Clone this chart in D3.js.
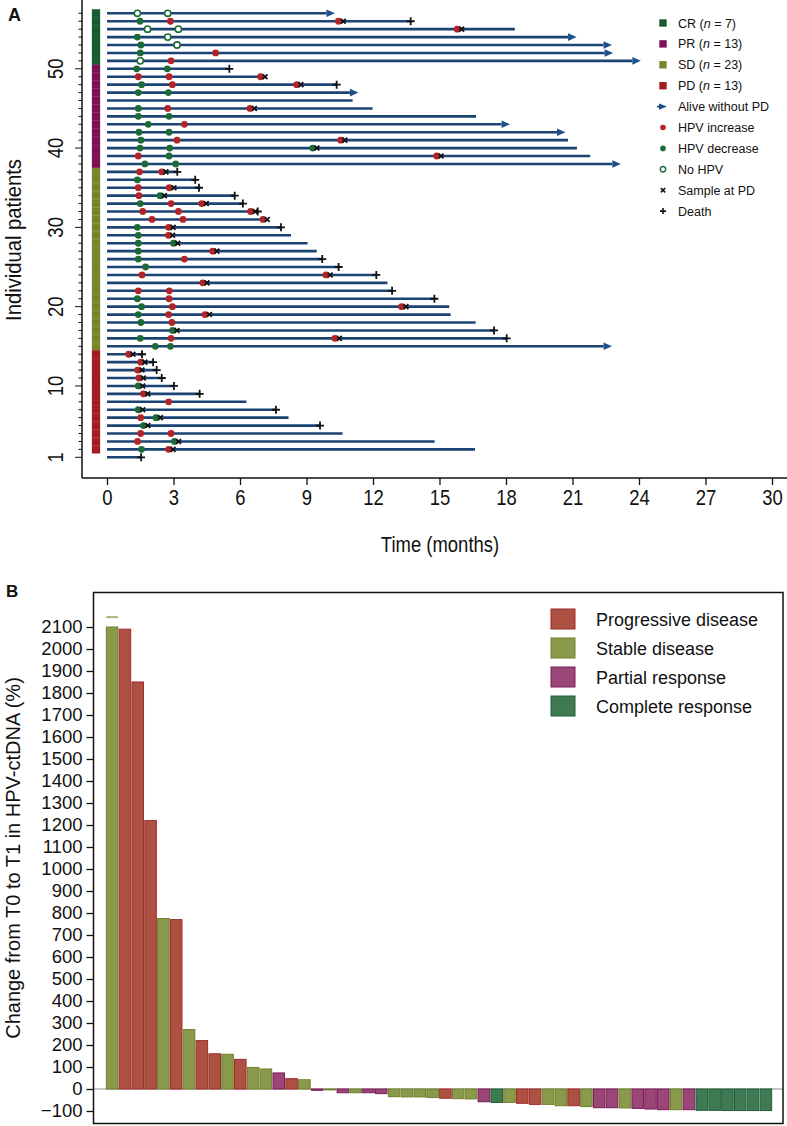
<!DOCTYPE html>
<html>
<head>
<meta charset="utf-8">
<script src="https://cdn.jsdelivr.net/npm/d3@7"></script>
<style>
  body { margin: 0; background: #fff; }
  svg text { font-family: "Liberation Sans", Arial, sans-serif; fill: #111; }
</style>
</head>
<body>
<svg id="chart" width="787" height="1126"></svg>
<script>

// ---------- PANEL A DATA (rows listed top to bottom, patient 57 -> 1) ----------
const patientNo = [57,56,55,54,53,52,51,50,49,48,47,46,45,44,43,42,41,40,39,38,37,36,35,34,33,32,31,30,29,
  28,27,26,25,24,23,22,21,20,19,18,17,16,15,14,13,12,11,10,9,8,7,6,5,4,3,2,1];

const response = [
  "CR","CR","CR","CR","CR","CR","CR",
  "PR","PR","PR","PR","PR","PR","PR","PR","PR","PR","PR","PR","PR",
  "SD","SD","SD","SD","SD","SD","SD","SD","SD","SD","SD","SD","SD","SD","SD","SD","SD","SD","SD","SD","SD","SD","SD",
  "PD","PD","PD","PD","PD","PD","PD","PD","PD","PD","PD","PD","PD",
  ""];

// follow-up (months) where each line stops
const followUp = [9.9,13.7,18.4,20.8,22.4,22.45,23.7,5.52,7.13,10.36,10.96,11.08,11.98,16.65,17.8,20.3,20.8,21.2,21.8,22.8,
  3.17,3.98,4.15,5.76,6.13,6.8,7.23,7.85,8.3,9.05,9.46,9.71,10.45,12.15,12.65,12.86,14.77,15.44,15.5,16.63,17.46,18.03,22.4,
  1.58,2.08,2.24,2.47,3.02,4.18,6.29,7.62,8.19,9.61,10.63,14.78,16.6,1.54];

// "alive" = alive without PD (arrow), "death" = death (+), "" = nothing
const outcome = ["alive","death","","alive","alive","alive","alive","death","","death","alive","","","","alive","alive","","","","alive",
  "death","death","death","death","death","death","","death","","","","death","death","death","","death","death","","","","death","death","alive",
  "death","death","death","death","death","death","","death","","death","","","","death"];

// [patient, month]
const hpvIncrease = [[56,2.86],[56,10.44],[55,15.8],[52,4.9],[51,2.89],[49,1.41],[49,2.8],[49,6.93],[48,2.95],[48,8.56],
  [45,2.74],[45,6.45],[43,3.49],[41,3.16],[41,10.54],[39,1.41],[39,14.87],[37,1.47],[37,2.47],[35,1.41],[35,2.81],[34,1.44],
  [33,2.89],[33,4.27],[32,1.61],[32,3.22],[32,6.48],[31,2.03],[31,3.43],[31,7.04],[30,2.78],[29,2.77],[27,4.77],[26,3.49],
  [24,1.58],[24,9.88],[23,4.32],[22,1.41],[22,2.81],[21,2.8],[20,2.95],[20,13.29],[19,2.78],[19,4.42],[18,2.93],[16,2.89],
  [16,10.28],[14,0.98],[13,1.52],[12,1.38],[11,1.44],[9,1.64],[8,2.78],[6,1.52],[4,1.52],[4,2.89],[3,1.38],[2,2.78]];

const hpvDecrease = [[56,1.49],[54,1.37],[53,1.53],[52,1.5],[50,1.34],[50,2.72],[48,1.56],[47,1.41],[47,2.77],[45,1.41],
  [44,1.41],[44,2.8],[43,1.86],[42,1.44],[42,2.8],[41,1.53],[40,1.49],[40,2.83],[40,9.28],[39,2.8],[38,1.71],[38,3.1],
  [36,1.37],[34,2.39],[33,1.5],[30,1.37],[29,1.41],[28,1.41],[28,3.0],[27,1.41],[26,1.41],[25,1.74],[21,1.37],[20,1.56],
  [19,1.41],[18,1.53],[17,2.96],[16,1.5],[15,2.18],[15,2.86],[10,1.41],[7,1.41],[6,2.21],[5,1.64],[3,3.04],[2,1.56]];

const noHpv = [[57,1.37],[57,2.74],[55,1.83],[55,3.22],[54,2.74],[53,3.16],[51,1.5]];

const pdSample = [[56,10.66],[55,16.0],[49,7.13],[48,8.75],[45,6.65],[41,10.73],[40,9.47],[39,15.07],[37,2.66],[35,3.02],
  [34,2.59],[33,4.48],[32,6.69],[31,7.23],[30,2.98],[29,2.96],[28,3.19],[27,4.96],[24,10.07],[23,4.51],[20,13.49],[19,4.62],
  [17,3.16],[16,10.48],[14,1.17],[13,1.71],[12,1.58],[11,1.64],[10,1.61],[9,1.84],[7,1.61],[6,2.41],[5,1.84],[3,3.23],[2,2.98]];

const timeTicks = [0,3,6,9,12,15,18,21,24,27,30];
const patientTicks = [1,10,20,30,40,50];

const legendA = [
  {type: "square", color: "CR", label: "CR (", n: "7"},
  {type: "square", color: "PR", label: "PR (", n: "13"},
  {type: "square", color: "SD", label: "SD (", n: "23"},
  {type: "square", color: "PD", label: "PD (", n: "13"},
  {type: "arrow", label: "Alive without PD"},
  {type: "inc", label: "HPV increase"},
  {type: "dec", label: "HPV decrease"},
  {type: "none", label: "No HPV"},
  {type: "x", label: "Sample at PD"},
  {type: "plus", label: "Death"}
];

// ---------- PANEL B DATA ----------
const changeT0T1 = [2100,2090,1850,1220,775,770,270,220,160,158,135,98,91,73,47,42,-6,-4,-17,-17,-17,-21,-35,-36,-36,-39,
  -42,-44,-45,-58,-61,-61,-65,-70,-70,-76,-76,-80,-85,-85,-86,-88,-91,-94,-94,-94,-97,-97,-98,-98,-98,-98];
const changeGroup = ["SD","PD","PD","PD","SD","PD","SD","PD","PD","SD","PD","SD","SD","PR","PD","SD","PR","SD","PR","SD",
  "PR","PR","SD","SD","SD","SD","PD","SD","SD","PR","CR","SD","PD","PD","SD","SD","PD","SD","PR","PR","SD","PR","PR","PR",
  "SD","PR","CR","CR","CR","CR","CR","CR"];
const brokenBarMark = 2145;  // little mark above the first (cut) bar
const changeTicks = d3.range(-100, 2101, 100);
const legendB = [["PD","Progressive disease"],["SD","Stable disease"],["PR","Partial response"],["CR","Complete response"]];

// colours
const respColor = {CR: "#175b33", PR: "#7b1253", SD: "#78862b", PD: "#a01d22"};
const barFill = {PD: "#ad5142", SD: "#8a9a4b", PR: "#9a4676", CR: "#3e7a52"};
const barStroke = {PD: "#a0292a", SD: "#6e7f2b", PR: "#7c1c5a", CR: "#245d38"};
const lineColor = "#1a4473";
const redDot = "#b32428";
const greenDot = "#1d6a37";
const narrow = 0.84; // horizontal squeeze, panel A axis text is a narrow face

const svg = d3.select("#chart");

// =============== PANEL A ===============
const xA = d3.scaleLinear().domain([0, 30]).range([107, 772]);
const yA = d3.scaleLinear().domain([1, 57]).range([457.3, 13.3]);

svg.append("text").attr("x", 8).attr("y", 21)
  .attr("font-weight", "bold").attr("font-size", 18).text("A");

// axes lines
svg.append("line").attr("x1", 82).attr("x2", 82).attr("y1", 0).attr("y2", 478)
  .attr("stroke", "#111").attr("stroke-width", 1.5);
svg.append("line").attr("x1", 82).attr("x2", 787).attr("y1", 478).attr("y2", 478)
  .attr("stroke", "#111").attr("stroke-width", 1.5);

// x ticks
const xAxisA = svg.append("g").attr("transform", "translate(0,478)")
  .call(d3.axisBottom(xA).tickValues(timeTicks).tickSize(7).tickPadding(4));
xAxisA.select(".domain").remove();
xAxisA.selectAll("line").attr("stroke", "#111").attr("stroke-width", 1.3);
xAxisA.selectAll("text").attr("font-size", 22).attr("fill", "#111")
  .attr("font-family", "'Liberation Sans', Arial, sans-serif")
  .attr("transform", `scale(${narrow},1)`);

svg.append("text")
  .attr("transform", `translate(440,552) scale(${narrow},1)`)
  .attr("text-anchor", "middle")
  .attr("font-size", 22).text("Time (months)");

// y ticks (minor every patient, major at labels)
svg.append("g").selectAll("line")
  .data(patientNo)
  .join("line")
  .attr("x1", d => patientTicks.includes(d) ? 75 : 78.5)
  .attr("x2", 82)
  .attr("y1", d => yA(d)).attr("y2", d => yA(d))
  .attr("stroke", "#111").attr("stroke-width", 1);

svg.append("g").selectAll("text")
  .data(patientTicks)
  .join("text")
  .attr("transform", d => `translate(63,${yA(d)}) rotate(-90) scale(${narrow},1)`)
  .attr("text-anchor", "middle")
  .attr("font-size", 22)
  .text(d => d);

svg.append("text")
  .attr("transform", `translate(21,240) rotate(-90) scale(0.92,1)`)
  .attr("text-anchor", "middle").attr("font-size", 22)
  .text("Individual patients");

// response colour strip
svg.append("g").selectAll("rect")
  .data(patientNo.map((p, i) => ({p, r: response[i]})).filter(d => d.r))
  .join("rect")
  .attr("x", 92).attr("width", 8)
  .attr("y", d => yA(d.p) - 3.96).attr("height", 7.93)
  .attr("fill", d => respColor[d.r])
  .attr("stroke", d => respColor[d.r]).attr("stroke-opacity", 0.6).attr("stroke-width", 0.4);

// follow-up lines
svg.append("g").selectAll("line")
  .data(patientNo.map((p, i) => ({p, t: followUp[i]})))
  .join("line")
  .attr("x1", xA(0)).attr("x2", d => xA(d.t))
  .attr("y1", d => yA(d.p)).attr("y2", d => yA(d.p))
  .attr("stroke", lineColor).attr("stroke-width", 2.6);

// arrows for alive without PD
const aliveRows = patientNo.map((p, i) => ({p, t: followUp[i], o: outcome[i]})).filter(d => d.o === "alive");
svg.append("g").selectAll("path")
  .data(aliveRows)
  .join("path")
  .attr("d", d => {
    const x0 = xA(d.t), y0 = yA(d.p);
    return `M${x0},${y0 - 3.8}L${x0 + 8.5},${y0}L${x0},${y0 + 3.8}Z`;
  })
  .attr("fill", "#1f4f8c");

// dots
svg.append("g").selectAll("circle")
  .data(hpvDecrease)
  .join("circle")
  .attr("cx", d => xA(d[1])).attr("cy", d => yA(d[0])).attr("r", 3.4)
  .attr("fill", greenDot);

svg.append("g").selectAll("circle")
  .data(hpvIncrease)
  .join("circle")
  .attr("cx", d => xA(d[1])).attr("cy", d => yA(d[0])).attr("r", 3.4)
  .attr("fill", redDot);

svg.append("g").selectAll("circle")
  .data(noHpv)
  .join("circle")
  .attr("cx", d => xA(d[1])).attr("cy", d => yA(d[0])).attr("r", 3.1)
  .attr("fill", "#fff").attr("stroke", greenDot).attr("stroke-width", 1.6);

// sample at PD (x)
const xMark = (cx, cy, s) => `M${cx - s},${cy - s}L${cx + s},${cy + s}M${cx - s},${cy + s}L${cx + s},${cy - s}`;
svg.append("g").selectAll("path")
  .data(pdSample)
  .join("path")
  .attr("d", d => xMark(xA(d[1]), yA(d[0]), 2.4))
  .attr("stroke", "#111").attr("stroke-width", 1.8).attr("fill", "none");

// death (+)
const plusMark = (cx, cy, s) => `M${cx - s},${cy}L${cx + s},${cy}M${cx},${cy - s}L${cx},${cy + s}`;
svg.append("g").selectAll("path")
  .data(patientNo.map((p, i) => ({p, t: followUp[i], o: outcome[i]})).filter(d => d.o === "death"))
  .join("path")
  .attr("d", d => plusMark(xA(d.t), yA(d.p), 4))
  .attr("stroke", "#111").attr("stroke-width", 1.8).attr("fill", "none");

// legend A
const legA = svg.append("g").selectAll("g")
  .data(legendA)
  .join("g")
  .attr("transform", (d, i) => `translate(663,${23 + i * 20.9})`);

legA.each(function(d) {
  const g = d3.select(this);
  if (d.type === "square") {
    g.append("rect").attr("x", -3.7).attr("y", -3.7).attr("width", 7.4).attr("height", 7.4).attr("fill", respColor[d.color]);
  } else if (d.type === "arrow") {
    g.append("path").attr("d", "M-4,-3.2L4,0L-4,3.2Z").attr("fill", "#1f4f8c");
    g.append("line").attr("x1", -6).attr("x2", -2).attr("stroke", lineColor).attr("stroke-width", 1.6);
  } else if (d.type === "inc") {
    g.append("circle").attr("r", 2.8).attr("fill", redDot);
  } else if (d.type === "dec") {
    g.append("circle").attr("r", 2.8).attr("fill", greenDot);
  } else if (d.type === "none") {
    g.append("circle").attr("r", 2.7).attr("fill", "#fff").attr("stroke", greenDot).attr("stroke-width", 1.5);
  } else if (d.type === "x") {
    g.append("path").attr("d", xMark(0, 0, 2.2)).attr("stroke", "#111").attr("stroke-width", 1.6);
  } else {
    g.append("path").attr("d", plusMark(0, 0, 3)).attr("stroke", "#111").attr("stroke-width", 1.6);
  }
  const t = g.append("text").attr("x", 15).attr("y", 4.5).attr("font-size", 12.5);
  if (d.n) {
    t.append("tspan").text(d.label);
    t.append("tspan").attr("font-style", "italic").text("n");
    t.append("tspan").text(` = ${d.n})`);
  } else {
    t.text(d.label);
  }
});

// =============== PANEL B ===============
const xB = d3.scaleBand().domain(d3.range(changeT0T1.length))
  .range([105.7, 772.3]).paddingInner(0.1).paddingOuter(0.05);
const yB = d3.scaleLinear().domain([-100, 2100]).range([1111, 627]);

svg.append("text").attr("x", 6).attr("y", 597)
  .attr("font-weight", "bold").attr("font-size", 17).text("B");

// zero line
svg.append("line").attr("x1", 94).attr("x2", 783).attr("y1", yB(0)).attr("y2", yB(0))
  .attr("stroke", "#b3b3b3").attr("stroke-width", 1.5);

// bars
svg.append("g").selectAll("rect")
  .data(changeT0T1)
  .join("rect")
  .attr("x", (d, i) => xB(i))
  .attr("width", xB.bandwidth())
  .attr("y", d => yB(Math.max(0, d)))
  .attr("height", d => Math.abs(yB(d) - yB(0)))
  .attr("fill", (d, i) => barFill[changeGroup[i]])
  .attr("stroke", (d, i) => barStroke[changeGroup[i]])
  .attr("stroke-width", 1);

// little mark above the cut first bar
svg.append("line")
  .attr("x1", xB(0)).attr("x2", xB(0) + xB.bandwidth())
  .attr("y1", yB(brokenBarMark)).attr("y2", yB(brokenBarMark))
  .attr("stroke", "#a9b47c").attr("stroke-width", 2);

// frame
svg.append("rect").attr("x", 93.5).attr("y", 592.5).attr("width", 689.5).attr("height", 531)
  .attr("fill", "none").attr("stroke", "#111").attr("stroke-width", 1.5);

// y axis B
const yAxisB = svg.append("g").attr("transform", "translate(93.5,0)")
  .call(d3.axisLeft(yB).tickValues(changeTicks).tickFormat(d3.format("d")).tickSize(7).tickPadding(4));
yAxisB.select(".domain").remove();
yAxisB.selectAll("line").attr("stroke", "#111").attr("stroke-width", 1.3);
yAxisB.selectAll("text").attr("font-size", 18.5).attr("fill", "#111")
  .attr("font-family", "'Liberation Sans', Arial, sans-serif");

svg.append("text")
  .attr("transform", `translate(20,858) rotate(-90)`)
  .attr("text-anchor", "middle").attr("font-size", 20)
  .text("Change from T0 to T1 in HPV-ctDNA (%)");

// legend B
const legB = svg.append("g").selectAll("g")
  .data(legendB)
  .join("g")
  .attr("transform", (d, i) => `translate(551,${609 + i * 29})`);
legB.append("rect").attr("width", 24).attr("height", 20)
  .attr("fill", d => barFill[d[0]]).attr("stroke", d => barStroke[d[0]]).attr("stroke-width", 1);
legB.append("text").attr("x", 45).attr("y", 16.5).attr("font-size", 18).text(d => d[1]);

</script>
</body>
</html>
